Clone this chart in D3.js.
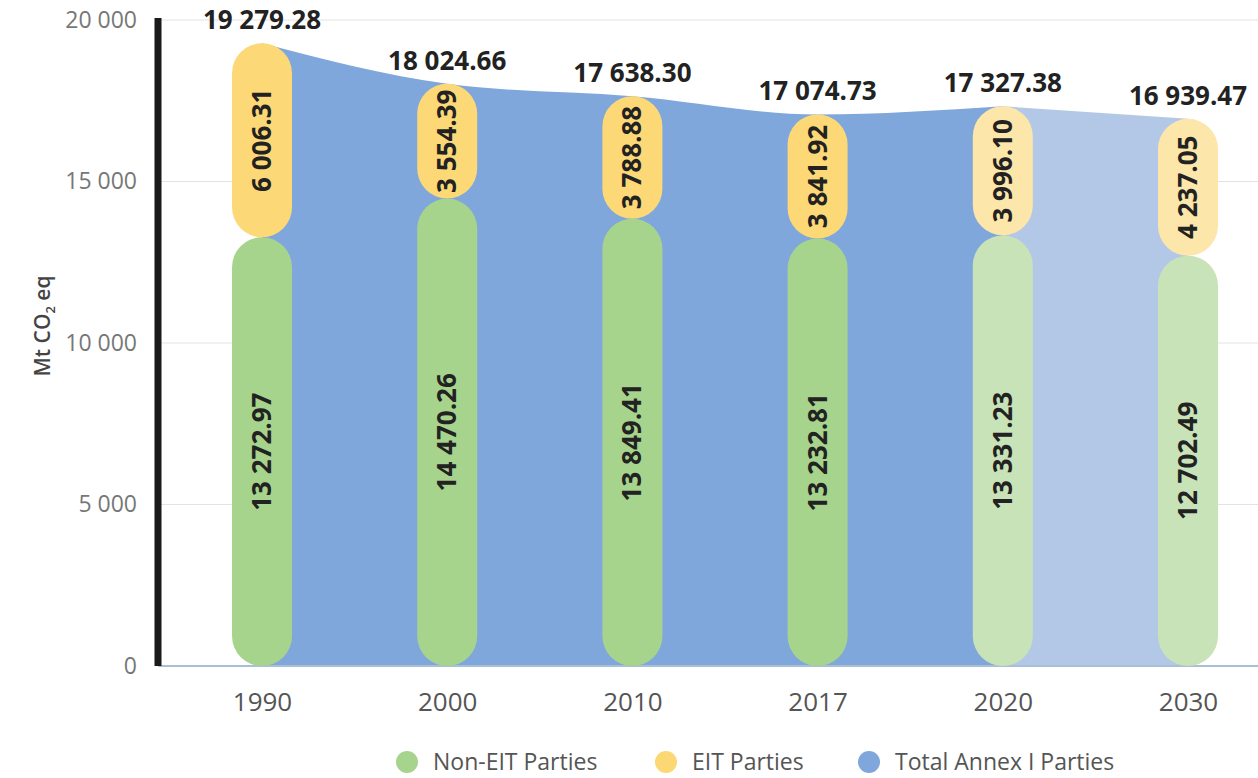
<!DOCTYPE html>
<html>
<head>
<meta charset="utf-8">
<script src="https://cdn.jsdelivr.net/npm/d3@7"></script>
<style>
  body { margin: 0; background: #fff; }
  svg text { font-family: "Open Sans", "Noto Sans", sans-serif; }
</style>
</head>
<body>
<div id="canvas"></div>
<script>
const years = ["1990", "2000", "2010", "2017", "2020", "2030"];
const nonEit = [13272.97, 14470.26, 13849.41, 13232.81, 13331.23, 12702.49];
const eit = [6006.31, 3554.39, 3788.88, 3841.92, 3996.10, 4237.05];
const total = [19279.28, 18024.66, 17638.30, 17074.73, 17327.38, 16939.47];
const projected = [false, false, false, false, true, true];
const yTicks = [0, 5000, 10000, 15000, 20000];
const legendLabels = ["Non-EIT Parties", "EIT Parties", "Total Annex I Parties"];

const width = 1258;
const height = 778;
const margin = { top: 20, left: 158, bottom: 112, right: 0 };
const iwidth = width - margin.left - margin.right;
const iheight = height - margin.top - margin.bottom;

const loc = d3.formatLocale({ decimal: ".", thousands: " ", grouping: [3], currency: ["", ""] });
const fmt2 = loc.format(",.2f");
const fmt0 = loc.format(",");

const data = years.map((y, i) => ({
  year: y, non: nonEit[i], eit: eit[i], total: total[i], proj: projected[i]
}));

const svg = d3.select("#canvas").append("svg")
  .attr("width", width)
  .attr("height", height);

const g = svg.append("g").attr("transform", `translate(${margin.left},${margin.top})`);

const x = d3.scalePoint()
  .domain(years)
  .range([104, 1030]);

const y = d3.scaleLinear()
  .domain([0, 20000])
  .range([iheight, 0]);

// gridlines
g.selectAll(".grid").data(yTicks.filter(d => d > 0)).enter().append("line")
  .attr("x1", 0).attr("x2", iwidth)
  .attr("y1", d => y(d)).attr("y2", d => y(d))
  .style("stroke", "#e3e3e3").style("stroke-width", 1.2);

// total area, solid part then projected part
const area = d3.area()
  .x(d => x(d.year))
  .y0(y(0))
  .y1(d => y(d.total))
  .curve(d3.curveMonotoneX);

const hist = data.filter(d => !d.proj || d.year === "2020");
const proj = data.filter(d => d.proj);

g.append("path").datum(proj)
  .attr("d", area)
  .style("fill", "#b3c8e7");

g.append("path").datum(hist)
  .attr("d", area)
  .style("fill", "#7fa7db");

// baseline
g.append("line")
  .attr("x1", 0).attr("x2", iwidth)
  .attr("y1", iheight).attr("y2", iheight)
  .style("stroke", "#a9bfd6").style("stroke-width", 2);

const bw = 60;

// bars (two separate pills)
const cols = g.selectAll(".col").data(data).enter().append("g").attr("class", "col");

cols.append("rect")
  .attr("x", d => x(d.year) - bw / 2)
  .attr("y", d => y(d.total))
  .attr("width", bw)
  .attr("height", d => y(d.non) - y(d.total))
  .attr("rx", bw / 2)
  .style("fill", d => d.proj ? "#fde6a9" : "#fdd877");

cols.append("rect")
  .attr("x", d => x(d.year) - bw / 2)
  .attr("y", d => y(d.non))
  .attr("width", bw)
  .attr("height", d => y(0) - y(d.non))
  .attr("rx", bw / 2)
  .style("fill", d => d.proj ? "#c8e3b8" : "#a7d48c");

// value labels
const lblSize = "26px";
cols.append("text")
  .attr("transform", d => `translate(${x(d.year) + 9},${y(d.non / 2)}) rotate(-90)`)
  .attr("text-anchor", "middle")
  .style("font-size", lblSize).style("font-weight", "bold").style("fill", "#222")
  .text(d => fmt2(d.non));

cols.append("text")
  .attr("transform", d => `translate(${x(d.year) + 9},${y(d.non + d.eit / 2)}) rotate(-90)`)
  .attr("text-anchor", "middle")
  .style("font-size", lblSize).style("font-weight", "bold").style("fill", "#222")
  .text(d => fmt2(d.eit));

cols.append("text")
  .attr("x", d => x(d.year))
  .attr("y", d => y(d.total) - 14)
  .attr("text-anchor", "middle")
  .style("font-size", lblSize).style("font-weight", "bold").style("fill", "#222")
  .text(d => fmt2(d.total));

// axes
const xAxis = g.append("g")
  .attr("transform", `translate(0,${iheight})`)
  .call(d3.axisBottom(x).tickSize(0).tickPadding(27));
xAxis.select(".domain").remove();
xAxis.selectAll("text")
  .style("font-size", "26px").style("fill", "#555");

const yAxis = g.append("g")
  .call(d3.axisLeft(y).tickValues(yTicks).tickSize(0).tickPadding(21).tickFormat(fmt0));
yAxis.select(".domain").remove();
yAxis.selectAll("text")
  .style("font-size", "23px").style("fill", "#777");

g.append("line")
  .attr("x1", 0).attr("x2", 0)
  .attr("y1", y(20000) - 2).attr("y2", iheight)
  .style("stroke", "#1a1a1a").style("stroke-width", 7);

// y title
const yt = svg.append("text")
  .attr("transform", `translate(50,326) rotate(-90)`)
  .attr("text-anchor", "middle")
  .style("font-size", "21px").style("font-weight", "600").style("fill", "#444");
yt.append("tspan").text("Mt CO");
yt.append("tspan").attr("dy", 5).style("font-size", "13px").text("2");
yt.append("tspan").attr("dy", -5).text(" eq");

// legend
const legendColors = ["#a7d48c", "#fbd874", "#7fa7db"];
const legendX = [407, 666, 869];
const lg = svg.selectAll(".leg").data(legendLabels).enter().append("g")
  .attr("transform", (d, i) => `translate(${legendX[i]},762)`);
lg.append("circle").attr("r", 11).style("fill", (d, i) => legendColors[i]);
lg.append("text")
  .attr("x", 26).attr("y", 8)
  .style("font-size", "23px").style("fill", "#555")
  .text(d => d);
</script>
</body>
</html>
